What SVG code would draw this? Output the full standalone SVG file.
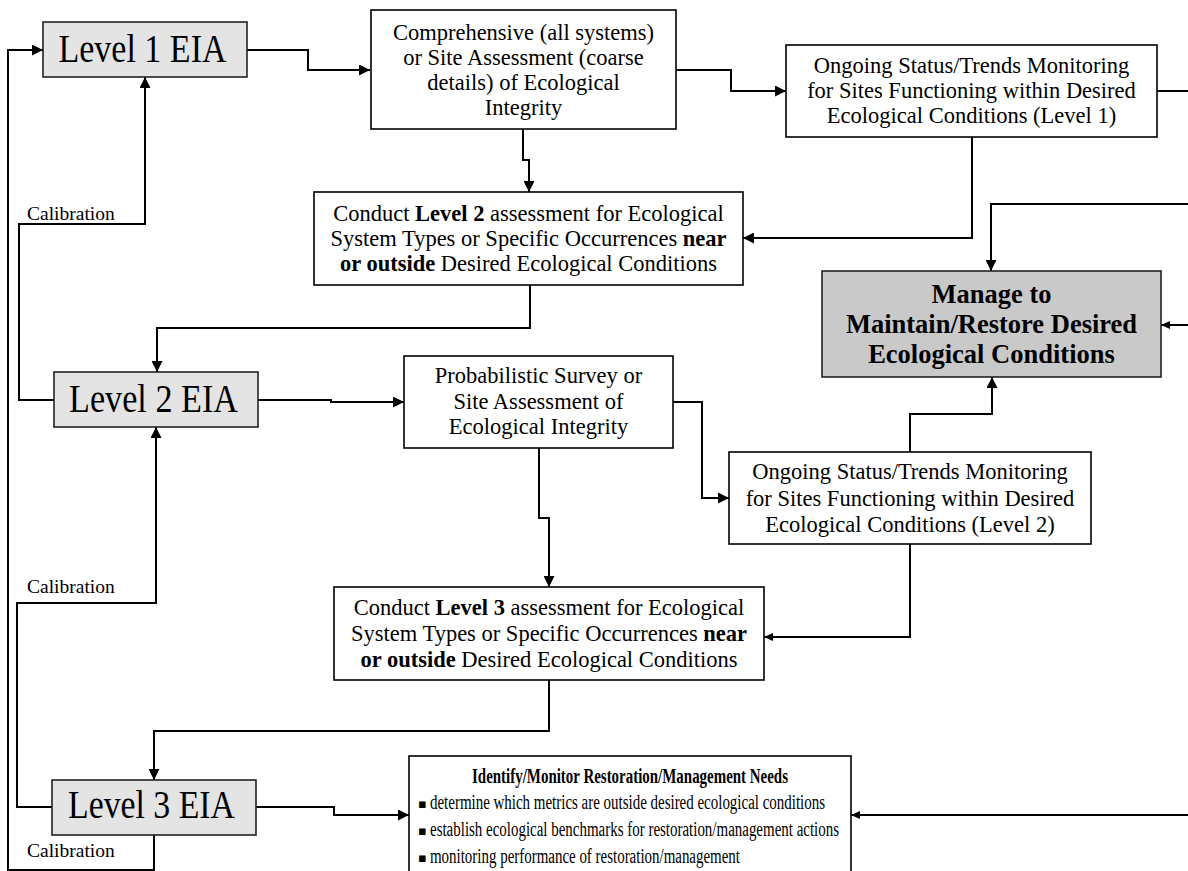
<svg xmlns="http://www.w3.org/2000/svg" width="1188" height="871" viewBox="0 0 1188 871">
<style>
text{font-family:"Liberation Serif","Times New Roman",serif;fill:#000}
.t{font-size:22.5px;text-anchor:middle}
.lv{font-size:40px;text-anchor:middle}
.cal{font-size:19.5px}
.mg{font-size:26.5px;font-weight:bold;text-anchor:middle}
.id{font-size:20.5px}
.b{font-weight:bold}
.box{fill:#fff;stroke:#000;stroke-width:1.6}
.lvbox{fill:#e4e4e4;stroke:#222;stroke-width:1.6}
.mgbox{fill:#c9c9c9;stroke:#222;stroke-width:1.6}
.c{fill:none;stroke:#000;stroke-width:2}
.bul{font-family:"DejaVu Sans",sans-serif;font-size:13px}
</style>
<defs>
<marker id="a" markerUnits="userSpaceOnUse" markerWidth="11" markerHeight="11" refX="11" refY="5.5" orient="auto"><path d="M0,0 L11,5.5 L0,11 z" fill="#000"/></marker>
<marker id="s" markerUnits="userSpaceOnUse" markerWidth="9" markerHeight="8" refX="9" refY="4" orient="auto"><path d="M0,0 L9,4 L0,8 z" fill="#000"/></marker>
</defs>
<rect width="1188" height="871" fill="#fff"/>
<g id="connectors">
<path class="c" d="M247,50 H308 V70 H370" marker-end="url(#a)"/>
<path class="c" d="M676,70 H731 V91 H786" marker-end="url(#a)"/>
<path class="c" d="M1157,91 H1188"/>
<path class="c" d="M523,129 V160 H529 V192" marker-end="url(#a)"/>
<path class="c" d="M972,137 V238 H743" marker-end="url(#a)"/>
<path class="c" d="M1188,204 H991 V271" marker-end="url(#a)"/>
<path class="c" d="M1188,325 H1161" marker-end="url(#s)"/>
<path class="c" d="M530,285 V328 H157 V372" marker-end="url(#a)"/>
<path class="c" d="M54,400 H19 V224 H145 V77" marker-end="url(#a)"/>
<path class="c" d="M258,400 H331 V402 H404" marker-end="url(#a)"/>
<path class="c" d="M673,402 H702 V498 H729" marker-end="url(#a)"/>
<path class="c" d="M910,452 V414 H992 V377" marker-end="url(#a)"/>
<path class="c" d="M539,448 V518 H549 V587" marker-end="url(#a)"/>
<path class="c" d="M910,544 V637 H764" marker-end="url(#s)"/>
<path class="c" d="M52,807 H17 V603 H156 V427" marker-end="url(#a)"/>
<path class="c" d="M549,680 V731 H154 V780" marker-end="url(#a)"/>
<path class="c" d="M256,807 H334 V815 H409" marker-end="url(#a)"/>
<path class="c" d="M1188,815 H851" marker-end="url(#s)"/>
<path class="c" d="M154,835 V870 H8 V50 H43" marker-end="url(#a)"/>
</g>
<g id="level1">
<rect class="lvbox" x="43" y="22" width="204" height="55"/>
<text class="lv" x="142.5" y="62" textLength="168" lengthAdjust="spacingAndGlyphs">Level 1 EIA</text>
</g>
<g id="comprehensive">
<rect class="box" x="371" y="10" width="305" height="119"/>
<text class="t" x="523.5" y="40">Comprehensive (all systems)</text>
<text class="t" x="523.5" y="65">or Site Assessment (coarse</text>
<text class="t" x="523.5" y="90">details) of Ecological</text>
<text class="t" x="523.5" y="115">Integrity</text>
</g>
<g id="monitor1">
<rect class="box" x="786" y="45" width="371" height="92"/>
<text class="t" x="971.5" y="73">Ongoing Status/Trends Monitoring</text>
<text class="t" x="971.5" y="98">for Sites Functioning within Desired</text>
<text class="t" x="971.5" y="123">Ecological Conditions (Level 1)</text>
</g>
<g id="conduct2">
<rect class="box" x="314" y="192" width="429" height="93"/>
<text class="t" x="528.5" y="221">Conduct <tspan class="b">Level 2</tspan> assessment for Ecological</text>
<text class="t" x="528.5" y="246">System Types or Specific Occurrences <tspan class="b">near</tspan></text>
<text class="t" x="528.5" y="271"><tspan class="b">or outside</tspan> Desired Ecological Conditions</text>
</g>
<g id="manage">
<rect class="mgbox" x="822" y="271" width="339" height="106"/>
<text class="mg" x="991.5" y="303">Manage to</text>
<text class="mg" x="991.5" y="333">Maintain/Restore Desired</text>
<text class="mg" x="991.5" y="363">Ecological Conditions</text>
</g>
<g id="calibration-labels">
<text class="cal" x="27" y="220">Calibration</text>
<text class="cal" x="27" y="593">Calibration</text>
<text class="cal" x="27" y="857">Calibration</text>
</g>
<g id="level2">
<rect class="lvbox" x="54" y="372" width="204" height="55"/>
<text class="lv" x="153.5" y="412" textLength="169" lengthAdjust="spacingAndGlyphs">Level 2 EIA</text>
</g>
<g id="probabilistic">
<rect class="box" x="404" y="356" width="269" height="92"/>
<text class="t" x="538.5" y="383">Probabilistic Survey or</text>
<text class="t" x="538.5" y="408.5">Site Assessment of</text>
<text class="t" x="538.5" y="434">Ecological Integrity</text>
</g>
<g id="monitor2">
<rect class="box" x="729" y="452" width="362" height="92"/>
<text class="t" x="910" y="479">Ongoing Status/Trends Monitoring</text>
<text class="t" x="910" y="505.5">for Sites Functioning within Desired</text>
<text class="t" x="910" y="531.5">Ecological Conditions (Level 2)</text>
</g>
<g id="conduct3">
<rect class="box" x="334" y="587" width="430" height="93"/>
<text class="t" x="549" y="615">Conduct <tspan class="b">Level 3</tspan> assessment for Ecological</text>
<text class="t" x="549" y="641">System Types or Specific Occurrences <tspan class="b">near</tspan></text>
<text class="t" x="549" y="666.5"><tspan class="b">or outside</tspan> Desired Ecological Conditions</text>
</g>
<g id="level3">
<rect class="lvbox" x="52" y="780" width="204" height="55"/>
<text class="lv" x="151.5" y="818" textLength="167" lengthAdjust="spacingAndGlyphs">Level 3 EIA</text>
</g>
<g id="identify">
<rect class="box" x="409" y="756" width="442" height="130"/>
<text class="id b" x="472" y="783" textLength="316" lengthAdjust="spacingAndGlyphs">Identify/Monitor Restoration/Management Needs</text>
<text class="bul" x="418" y="808">▪</text>
<text class="id" x="430" y="809" textLength="395" lengthAdjust="spacingAndGlyphs">determine which metrics are outside desired ecological conditions</text>
<text class="bul" x="418" y="835">▪</text>
<text class="id" x="430" y="836" textLength="409" lengthAdjust="spacingAndGlyphs">establish ecological benchmarks for restoration/management actions</text>
<text class="bul" x="418" y="862">▪</text>
<text class="id" x="430" y="863" textLength="310" lengthAdjust="spacingAndGlyphs">monitoring performance of restoration/management</text>
</g>
</svg>
